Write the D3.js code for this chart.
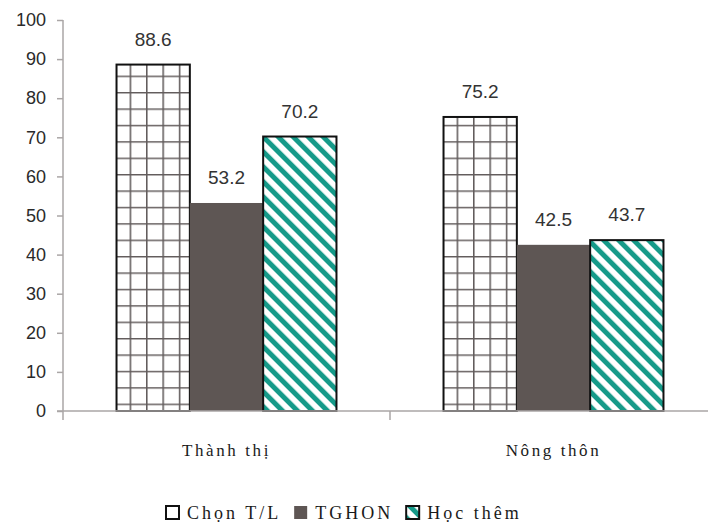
<!DOCTYPE html>
<html>
<head>
<meta charset="utf-8">
<script src="https://cdn.jsdelivr.net/npm/d3@7"></script>
<style>
  body { margin: 0; background: #fff; }
  svg { display: block; }
</style>
</head>
<body>
<svg id="chart" width="708" height="527"></svg>
<script>
// data
const categories = ['Thành thị', 'Nông thôn'];
const seriesNames = ['Chọn T/L', 'TGHON', 'Học thêm'];
const chonTL = [88.6, 75.2];
const tghon = [53.2, 42.5];
const hocThem = [70.2, 43.7];
const yTicks = [0, 10, 20, 30, 40, 50, 60, 70, 80, 90, 100];

const values = [chonTL, tghon, hocThem];

const svg = d3.select('#chart');
const fills = ['url(#grid)', '#5e5654', 'url(#stripes)'];

// patterns
const defs = svg.append('defs');
const grid = defs.append('pattern')
  .attr('id', 'grid')
  .attr('patternUnits', 'userSpaceOnUse')
  .attr('width', 16.4).attr('height', 16.4)
  .attr('x', 1).attr('y', 10);
grid.append('rect').attr('width', 16.4).attr('height', 16.4).attr('fill', '#fff');
grid.append('path')
  .attr('d', 'M0,0.7H16.4M0.7,0V16.4')
  .attr('stroke', '#625c5c')
  .attr('stroke-width', 1.7);

const stripes = defs.append('pattern')
  .attr('id', 'stripes')
  .attr('patternUnits', 'userSpaceOnUse')
  .attr('width', 10.6).attr('height', 10.6)
  .attr('patternTransform', 'rotate(-45)');
stripes.append('rect').attr('width', 10.6).attr('height', 10.6).attr('fill', '#fff');
stripes.append('rect').attr('width', 5).attr('height', 10.6).attr('fill', '#169a89');

// scales
const y = d3.scaleLinear().domain([0, 100]).range([411, 20]);
const x0 = d3.scaleBand().domain(categories).range([63, 717]).paddingInner(0).paddingOuter(0);
const x1 = d3.scaleBand().domain(seriesNames).range([0, x0.bandwidth()]).paddingInner(0).paddingOuter(0.73);

// y axis
const yAxis = svg.append('g')
  .attr('transform', 'translate(63,0)')
  .call(d3.axisLeft(y).tickValues(yTicks).tickSize(6).tickPadding(11).tickSizeOuter(0));
yAxis.select('.domain').remove();
yAxis.selectAll('.tick line').attr('stroke', '#aaa6a6').attr('stroke-width', 1.5);
yAxis.selectAll('.tick text')
  .attr('font-family', 'Liberation Sans, Arial, sans-serif')
  .attr('font-size', 18)
  .attr('fill', '#2a2a2a');
svg.append('line')
  .attr('x1', 63).attr('x2', 63)
  .attr('y1', y(100)).attr('y2', y(0) + 9)
  .attr('stroke', '#aaa6a6').attr('stroke-width', 1.5);

// bars
const groups = svg.selectAll('g.cat')
  .data(categories)
  .enter()
  .append('g')
  .attr('class', 'cat')
  .attr('transform', d => `translate(${x0(d)},0)`);

groups.selectAll('rect')
  .data((c, ci) => seriesNames.map((s, si) => ({ s, si, v: values[si][ci] })))
  .enter()
  .append('rect')
  .attr('x', d => x1(d.s))
  .attr('y', d => y(d.v))
  .attr('width', x1.bandwidth())
  .attr('height', d => y(0) - y(d.v))
  .attr('fill', d => fills[d.si])
  .attr('stroke', d => d.si === 1 ? 'none' : '#111')
  .attr('stroke-width', 2);

groups.selectAll('text.val')
  .data((c, ci) => seriesNames.map((s, si) => ({ s, si, v: values[si][ci] })))
  .enter()
  .append('text')
  .attr('class', 'val')
  .attr('x', d => x1(d.s) + x1.bandwidth() / 2)
  .attr('y', d => y(d.v) - 19)
  .attr('text-anchor', 'middle')
  .attr('font-family', 'Liberation Sans, Arial, sans-serif')
  .attr('font-size', 19)
  .attr('fill', '#333')
  .text(d => d.v.toFixed(1));

// x axis
svg.append('line')
  .attr('x1', 57).attr('x2', 717)
  .attr('y1', y(0)).attr('y2', y(0))
  .attr('stroke', '#aaa6a6').attr('stroke-width', 1.5);
svg.selectAll('line.xtick')
  .data(categories.slice(1))
  .enter()
  .append('line')
  .attr('class', 'xtick')
  .attr('x1', d => x0(d)).attr('x2', d => x0(d))
  .attr('y1', y(0)).attr('y2', y(0) + 9)
  .attr('stroke', '#aaa6a6').attr('stroke-width', 1.5);

svg.selectAll('text.cat')
  .data(categories)
  .enter()
  .append('text')
  .attr('class', 'cat')
  .attr('x', d => x0(d) + x0.bandwidth() / 2)
  .attr('y', 456)
  .attr('text-anchor', 'middle')
  .attr('font-family', 'Liberation Serif, Times New Roman, serif')
  .attr('font-size', 17)
  .attr('letter-spacing', 2.6)
  .attr('fill', '#1a1a1a')
  .text(d => d);

// legend
const legend = svg.append('g').attr('transform', 'translate(165,505)');
let lx = 0;
seriesNames.forEach((name, i) => {
  const item = legend.append('g').attr('transform', `translate(${lx},0)`);
  item.append('rect')
    .attr('x', 1).attr('y', 1)
    .attr('width', 13).attr('height', 13)
    .attr('fill', fills[i] === 'url(#grid)' ? '#fff' : fills[i])
    .attr('stroke', i === 1 ? 'none' : '#111')
    .attr('stroke-width', 2);
  const t = item.append('text')
    .attr('x', 22)
    .attr('y', 14)
    .attr('font-family', 'Liberation Serif, Times New Roman, serif')
    .attr('font-size', 18)
    .attr('letter-spacing', 3)
    .attr('fill', '#1a1a1a')
    .text(name);
  lx += 22 + t.node().getComputedTextLength() + 12;
});
</script>
</body>
</html>
